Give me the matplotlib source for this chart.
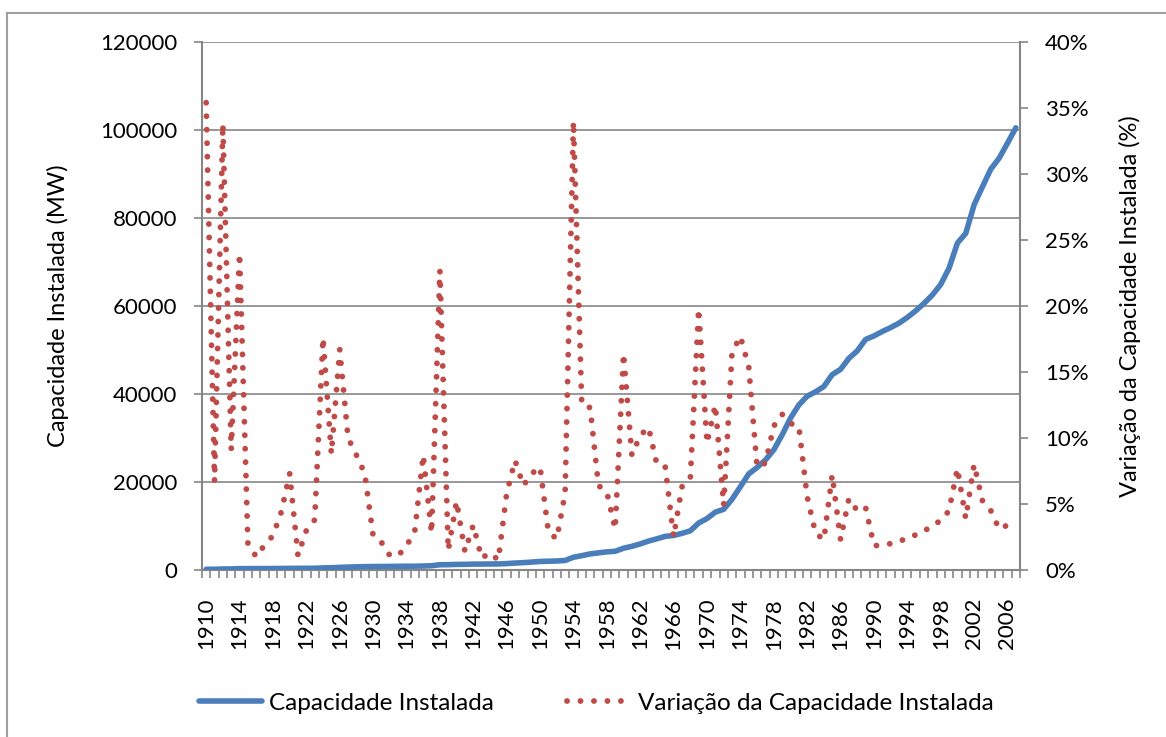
import matplotlib
matplotlib.use("Agg")
import matplotlib.pyplot as plt
import matplotlib.ticker as mticker
from matplotlib.lines import Line2D

plt.rcParams['font.family'] = ['Lato', 'DejaVu Sans']

years = list(range(1910, 2008))

# capacidade instalada (MW)
capacidade = [
    160, 170, 228, 249, 309, 315, 318, 324, 333, 347,
    373, 377, 388, 403, 474, 515, 601, 661, 719, 772,
    790, 802, 811, 842, 861, 865, 902, 972, 1193, 1211,
    1274, 1292, 1336, 1348, 1365, 1375, 1455, 1576, 1677, 1800,
    1940, 1996, 2043, 2162, 2897, 3260, 3660, 3895, 4125, 4253,
    4950, 5380, 5930, 6570, 7096, 7650, 7840, 8330, 8905, 10665,
    11690, 13150, 13800, 16080, 18930, 21840, 23300, 25000, 27300, 30700,
    34500, 37500, 39500, 40500, 41700, 44400, 45600, 48100, 49800, 52400,
    53200, 54200, 55100, 56100, 57400, 58900, 60600, 62500, 64900, 68600,
    74300, 76500, 83000, 87100, 91100, 93600, 97000, 100500,
]

# variacao anual (%)
variacao = [
    35.4, 6.7, 33.8, 9.1, 24.0, 2.0, 1.0, 1.9, 2.6, 4.4,
    7.3, 1.1, 3.0, 3.8, 17.6, 8.8, 16.7, 10.0, 8.7, 7.3,
    2.6, 2.1, 1.1, 1.1, 1.8, 3.0, 8.7, 2.8, 22.7, 1.5,
    5.2, 1.4, 3.4, 0.9, 1.3, 0.75, 5.8, 8.3, 6.4, 7.3,
    7.8, 2.9, 2.35, 5.8, 34.0, 12.5, 12.3, 6.4, 5.9, 3.1,
    16.4, 8.7, 10.2, 10.8, 8.0, 7.8, 2.5, 6.3, 6.9, 19.8,
    9.6, 12.5, 4.9, 16.5, 17.7, 15.4, 7.8, 8.1, 10.9, 11.8,
    11.1, 10.9, 5.55, 2.8, 2.3, 7.2, 2.3, 5.4, 4.5, 4.75,
    1.85, 1.85, 2.0, 2.1, 2.5, 2.65, 2.9, 3.45, 3.7, 4.5,
    7.7, 3.9, 8.0, 5.25, 4.5, 3.1, 3.4, 3.9,
]

blue = '#4A7EBB'
red = '#BE4B48'
gray = '#868686'

W, H = 1166, 737
fig = plt.figure(figsize=(W / 100, H / 100), dpi=100)

# chart frame (cropped on right/bottom like the original)
fig.add_artist(Line2D([7 / W, 7 / W], [0, 1 - 13 / H], color='#A0A0A0', lw=1.5))
fig.add_artist(Line2D([7 / W, 1], [1 - 13 / H, 1 - 13 / H], color='#A0A0A0', lw=1.5))

ax = fig.add_axes([202 / W, 1 - 570 / H, (1020 - 202) / W, (570 - 42) / H])
x = list(range(len(years)))

ax.plot(x, capacidade, color=blue, lw=4.0, solid_capstyle='round',
        solid_joinstyle='round', label='Capacidade Instalada', zorder=3)
ax.set_xlim(-0.5, len(years) - 0.5)
ax.set_ylim(0, 120000)
ax.set_yticks(range(0, 120001, 20000))
ax.grid(axis='y', color=gray, lw=1.2)
ax.set_axisbelow(True)

ax.set_xticks(x[::4])
ax.set_xticklabels([str(y) for y in years[::4]], rotation=90)
ax.set_xticks([i - 0.5 for i in range(len(years) + 1)], minor=True)
ax.tick_params(axis='x', which='major', length=0, pad=20, labelsize=16)
ax.tick_params(axis='x', which='minor', length=6, color=gray, width=1.2)
ax.tick_params(axis='y', length=6, color=gray, width=1.2, pad=12, labelsize=16)

for s in ['top', 'right']:
    ax.spines[s].set_visible(False)
for s in ['left', 'bottom']:
    ax.spines[s].set_color(gray)
    ax.spines[s].set_linewidth(1.5)

ax.set_ylabel('Capacidade Instalada (MW)', fontsize=17, labelpad=22)

ax2 = ax.twinx()
ax2.plot(x, variacao, color=red, lw=4.2, linestyle=(0, (0.01, 2.3)),
         dash_capstyle='round', label='Variação da Capacidade Instalada')
ax2.set_ylim(0, 40)
ax2.set_yticks(range(0, 41, 5))
ax2.yaxis.set_major_formatter(mticker.FuncFormatter(lambda v, p: '{:.0f}%'.format(v)))
ax2.tick_params(axis='y', length=6, color=gray, width=1.2, pad=12, labelsize=16)
for s in ['top', 'left', 'bottom']:
    ax2.spines[s].set_visible(False)
ax2.spines['right'].set_color(gray)
ax2.spines['right'].set_linewidth(1.5)
ax2.set_xlim(-0.5, len(years) - 0.5)
ax2.set_ylabel('Variação da Capacidade Instalada (%)', fontsize=17, labelpad=22)

h1, l1 = ax.get_legend_handles_labels()
h2, l2 = ax2.get_legend_handles_labels()
fig.legend(h1 + h2, l1 + l2, loc='center', bbox_to_anchor=(596 / W, 1 - 703 / H),
           ncol=2, frameon=False, fontsize=17.5, handlelength=2.6,
           handletextpad=0.3, columnspacing=3.0)

fig.savefig('out.png', dpi=100)
